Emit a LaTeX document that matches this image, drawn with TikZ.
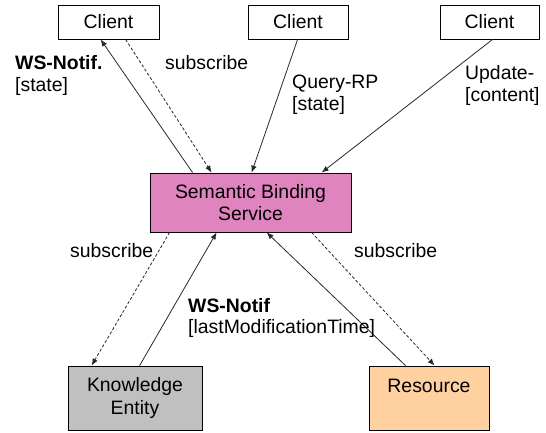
\documentclass[tikz,border=0pt]{standalone}
\usepackage{fontspec}
\setmainfont{Liberation Sans}
\usetikzlibrary{arrows.meta}
\definecolor{sbspink}{RGB}{224,132,192}
\definecolor{kegray}{RGB}{192,192,192}
\definecolor{respeach}{RGB}{255,208,160}
\definecolor{linegray}{RGB}{40,40,40}
\tikzset{
  box/.style={draw=black, line width=0.8pt, rectangle, inner sep=0pt, align=center},
  lbl/.style={inner sep=0pt, anchor=base west},
  conn/.style={draw=linegray, line width=0.8pt, -{Latex[length=7pt,width=5.5pt]}},
  sub/.style={conn, dash pattern=on 3pt off 2pt},
}
\begin{document}
\begin{tikzpicture}[x=1pt, y=-1pt, font=\fontsize{19.4}{22.5}\selectfont]
\useasboundingbox (0,0) rectangle (546,433);

% boxes
\node[box, minimum width=101pt, minimum height=34pt] (c1) at (108.5,22) {Client};
\node[box, minimum width=100pt, minimum height=34pt] (c2) at (298,22) {Client};
\node[box, minimum width=99pt, minimum height=34pt] (c3) at (489.5,22) {Client};
\node[box, fill=sbspink, minimum width=201pt, minimum height=59pt] (sbs) at (250.5,202.5) {Semantic Binding\\Service};
\node[box, fill=kegray, minimum width=134pt, minimum height=64pt] (ke) at (135,398) {Knowledge\\Entity};
\node[box, fill=respeach, minimum width=120pt, minimum height=64pt] (res) at (429,398) {};
\node[lbl, anchor=base] (restext) at (429,392) {Resource};

% connectors
\draw[conn] ([xshift=43pt]sbs.north west) -- ([xshift=43pt]c1.south west);
\draw[sub] ([xshift=68pt]c1.south west) -- ([xshift=62pt]sbs.north west);
\draw[conn] ([xshift=50pt]c2.south west) -- ([xshift=102pt]sbs.north west);
\draw[conn] ([xshift=53pt]c3.south west) -- ([xshift=172pt]sbs.north west);
\draw[sub] ([xshift=20pt]sbs.south west) -- ([xshift=24pt]ke.north west);
\draw[conn] ([xshift=72pt]ke.north west) -- ([xshift=67pt]sbs.south west);
\draw[conn] ([xshift=37pt]res.north west) -- ([xshift=117pt]sbs.south west);
\draw[sub] ([xshift=162pt]sbs.south west) -- ([xshift=66pt]res.north west);

% labels
\node[lbl] (l1a) at (15,70) {\bfseries WS-Notif.};
\node[lbl] (l1b) at (15,91.5) {[state]};
\node[lbl] (l2) at (165,70) {subscribe};
\node[lbl] (l3a) at (292,89) {Query-RP};
\node[lbl] (l3b) at (292,111) {[state]};
\node[lbl] (l4a) at (465,80) {Update-};
\node[lbl] (l4b) at (465,102) {[content]};
\node[lbl] (l5) at (70,257) {subscribe};
\node[lbl] (l6a) at (188,312) {\bfseries WS-Notif};
\node[lbl] (l6b) at (188,333) {[lastModificationTime]};
\node[lbl] (l7) at (354,257) {subscribe};
\end{tikzpicture}
\end{document}
